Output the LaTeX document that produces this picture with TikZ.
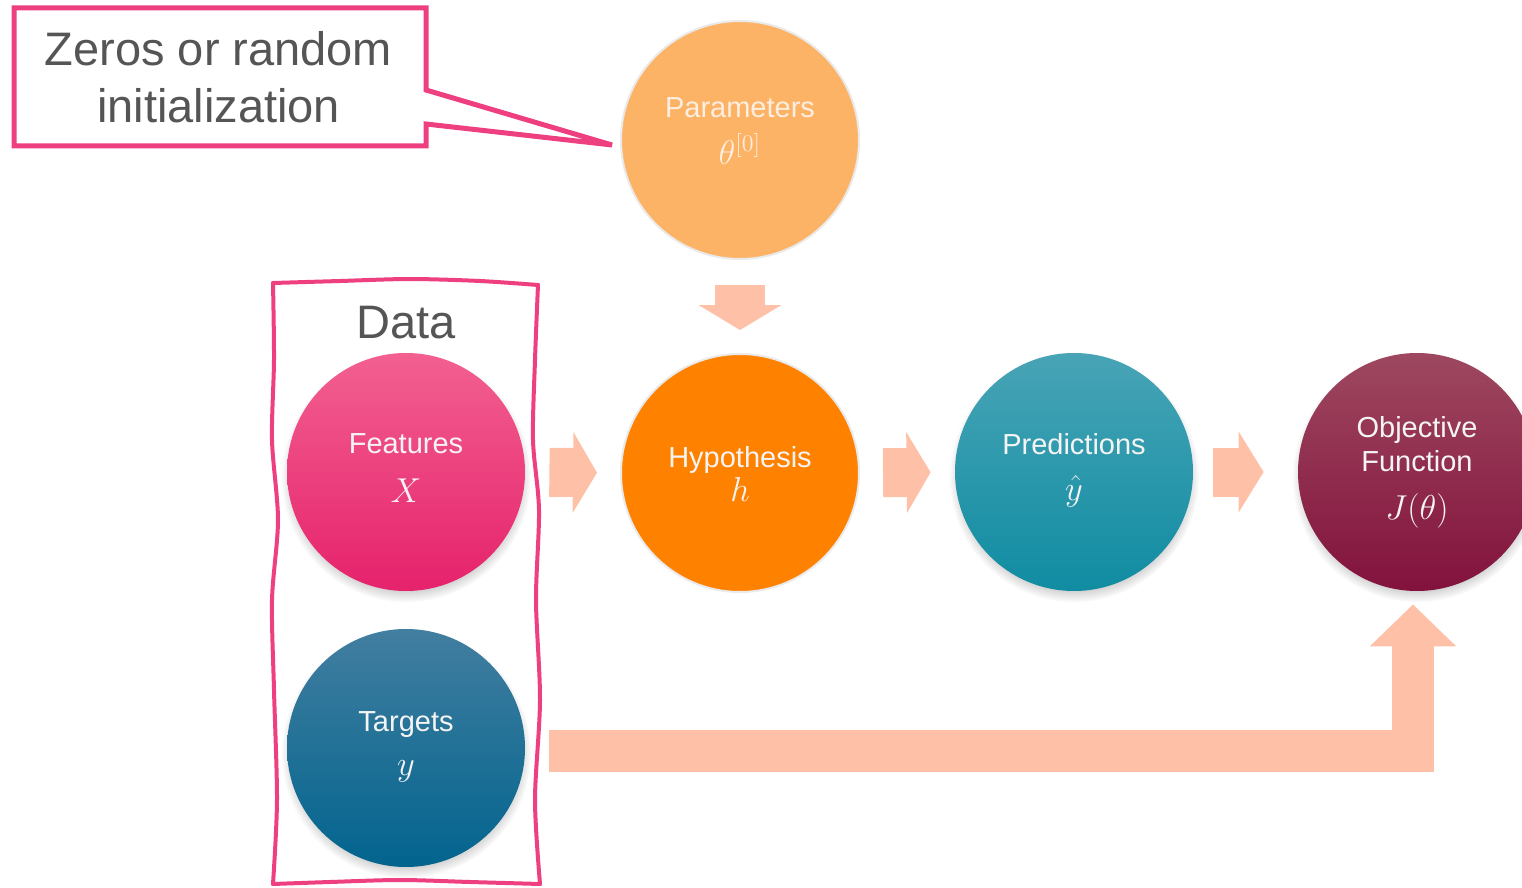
\documentclass[tikz,border=0pt]{standalone}
\usepackage{fontspec}
\setmainfont{Liberation Sans}
\usetikzlibrary{arrows.meta,shadows,calc}

\definecolor{accent}{RGB}{238,64,128}
\definecolor{flow}{RGB}{255,192,168}
\definecolor{darktext}{RGB}{85,85,85}
\definecolor{lighttext}{RGB}{244,244,244}
\definecolor{ringgrey}{RGB}{234,234,234}
\definecolor{paramfill}{RGB}{253,179,102}
\definecolor{hypfill}{RGB}{255,129,0}

\tikzset{
  bubble/.style={circle, minimum size=119pt, inner sep=0pt},
  flatbubble/.style={bubble, draw=ringgrey, line width=1pt},
  deepbubble/.style={bubble, circular drop shadow={shadow xshift=0pt, shadow yshift=-2.5pt, shadow scale=1.05, opacity=0.55}},
  lbl/.style={anchor=base, text=lighttext, font=\fontsize{14.5}{17}\selectfont, inner sep=0pt},
  sym/.style={anchor=base, text=lighttext, font=\fontsize{16.5}{19}\selectfont, inner sep=0pt},
  bigtxt/.style={text=darktext, font=\fontsize{23.5}{28.5}\selectfont, inner sep=0pt},
  flowarrow/.style={draw=flow, line width=#1, line cap=butt, line join=miter},
  datafence/.style={draw=accent, line width=2pt, line cap=round},
}

\begin{document}
\begin{tikzpicture}[x=0.5pt, y=-0.5pt]
\useasboundingbox (0,0) rectangle (1522,888);

% ---- circles ----
\node[flatbubble, fill=paramfill] (par) at (740,140) {};
\node[flatbubble, fill=hypfill] (hyp) at (740,473) {};
\node[deepbubble, top color={rgb,255:red,242;green,96;blue,144}, middle color={rgb,255:red,244;green,50;blue,121}, bottom color={rgb,255:red,230;green,34;blue,108}] (feat) at (406,472) {};
\node[deepbubble, top color={rgb,255:red,72;green,164;blue,182}, middle color={rgb,255:red,26;green,155;blue,178}, bottom color={rgb,255:red,16;green,140;blue,162}] (pred) at (1074,472) {};
\node[deepbubble, top color={rgb,255:red,158;green,72;blue,96}, middle color={rgb,255:red,140;green,24;blue,68}, bottom color={rgb,255:red,130;green,18;blue,60}] (obj) at (1417,472) {};
\node[deepbubble, top color={rgb,255:red,66;green,126;blue,160}, middle color={rgb,255:red,4;green,106;blue,148}, bottom color={rgb,255:red,2;green,100;blue,142}] (tgt) at (406,748) {};

% ---- circle labels ----
\node[lbl, text={rgb,255:red,252;green,238;blue,224}] (parname) at (740,118) {Parameters};
\node[sym, text={rgb,255:red,252;green,238;blue,224}] (parsym) at (740,164) {$\theta^{[0]}$};
\node[lbl] (featname) at (406,453) {Features};
\node[sym] (featsym) at (406,502) {$X$};
\node[lbl] (hypname) at (740,467) {Hypothesis};
\node[sym] (hypsym) at (740,501) {$h$};
\node[lbl] (predname) at (1074,454) {Predictions};
\node[sym] (predsym) at (1074,500) {$\hat{y}$};
\node[lbl] (objname) at (1417,437) {Objective};
\node[lbl] (objname2) at (1417,471) {Function};
\node[sym] (objsym) at (1417,519) {$J(\theta)$};
\node[lbl] (tgtname) at (406,731) {Targets};
\node[sym] (tgtsym) at (406,775) {$y$};

% ---- flow arrows ----
\draw[flowarrow=24.5pt, -{Triangle[width=40pt, length=12pt]}, shorten <=12pt, shorten >=11.5pt] (feat.east) -- (hyp.west);
\draw[flowarrow=24.5pt, -{Triangle[width=40pt, length=12pt]}, shorten <=11.5pt, shorten >=12pt] (hyp.east) -- (pred.west);
\draw[flowarrow=24.5pt, -{Triangle[width=40pt, length=12.5pt]}, shorten <=10pt, shorten >=17pt] (pred.east) -- (obj.west);
\draw[flowarrow=25pt, -{Triangle[width=41pt, length=12.5pt]}, shorten <=12.5pt, shorten >=11.5pt] (par.south) -- (hyp.north);
\draw[flowarrow=21pt, -{Triangle[width=42pt, length=21pt]}, shorten <=12pt, shorten >=6.5pt] ([yshift=-1.5pt]tgt.east) -| ([xshift=-2pt]obj.south);

% ---- data frame (hand drawn) ----
\draw[datafence] plot[smooth, tension=0.5] coordinates {(273,283) (340,281) (410,279) (480,281) (538,285)};
\draw[datafence] plot[smooth, tension=0.5] coordinates {(538,285) (535,360) (533,440) (539,510) (536,600) (540,700) (535,800) (540,884)};
\draw[datafence] plot[smooth, tension=0.5] coordinates {(540,884) (470,882) (400,880) (330,882) (273,884)};
\draw[datafence] plot[smooth, tension=0.5] coordinates {(273,884) (277,800) (274,690) (272,600) (278,520) (272,440) (274,360) (273,283)};
\node[bigtxt, anchor=base] (datatitle) at (406,338) {Data};

% ---- initialization callout ----
\coordinate (tip) at ($(par.west)+(-8,5)$);
\draw[accent, fill=white, line width=2.5pt, line join=miter, miter limit=4]
  (14,8) -- (426,8) -- (426,90) -- (tip) -- (426,124) -- (426,146) -- (14,146) -- cycle;
\node[bigtxt, align=center] (init) at (218.5,77) {Zeros or random\\initialization};
\end{tikzpicture}
\end{document}
